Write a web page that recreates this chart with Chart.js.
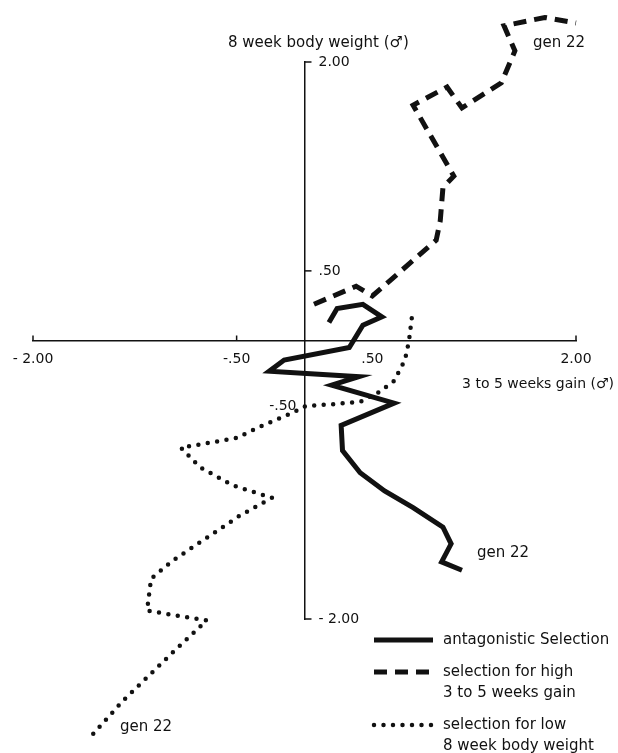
<!DOCTYPE html>
<html>
<head>
<meta charset="utf-8">
<script src="https://cdn.jsdelivr.net/npm/chart.js@4.4.1/dist/chart.umd.min.js"></script>
<style>
  html, body { margin: 0; padding: 0; background: #fff; }
  #wrap { width: 618px; height: 753px; }
</style>
</head>
<body>
<div id="wrap"><canvas id="chart" width="618" height="753"></canvas></div>
<script>
// responses in sigma units, x = 3 to 5 weeks gain, y = 8 week body weight
const antagonisticX = [0.18, 0.24, 0.43, 0.57, 0.43, 0.33, -0.15, -0.26, 0.40, 0.20, 0.66, 0.27, 0.28, 0.41, 0.59, 0.80, 1.02, 1.08, 1.01, 1.16];
const antagonisticY = [0.13, 0.23, 0.26, 0.17, 0.11, -0.05, -0.14, -0.22, -0.26, -0.32, -0.45, -0.61, -0.79, -0.95, -1.08, -1.20, -1.34, -1.46, -1.59, -1.65];

const highGainX = [0.07, 0.38, 0.50, 0.97, 1.00, 1.02, 1.10, 0.80, 1.05, 1.16, 1.45, 1.55, 1.47, 1.77, 2.00];
const highGainY = [0.26, 0.39, 0.32, 0.72, 0.86, 1.10, 1.18, 1.69, 1.82, 1.67, 1.85, 2.08, 2.26, 2.32, 2.28];

const lowWeightX = [0.79, 0.77, 0.74, 0.66, 0.55, 0.41, 0.18, 0.01, -0.09, -0.33, -0.50, -0.91, -0.77, -0.53, -0.24, -0.48, -0.97, -1.13, -1.16, -0.72, -0.97, -1.34, -1.57];
const lowWeightY = [0.16, 0.00, -0.14, -0.29, -0.37, -0.44, -0.46, -0.47, -0.52, -0.62, -0.70, -0.77, -0.91, -1.04, -1.13, -1.26, -1.58, -1.71, -1.94, -2.01, -2.24, -2.59, -2.84];

const seriesNames = ['antagonistic Selection', 'selection for high|3 to 5 weeks gain', 'selection for low|8 week body weight'];

const xTickValues = [-2, -0.5, 0.5, 2];
const xTickLabels = ['- 2.00', '-.50', '.50', '2.00'];
const yTickValues = [2, 0.5, -0.5, -2];
const yTickLabels = ['2.00', '.50', '-.50', '- 2.00'];

const INK = '#111';
const FONT = '"DejaVu Sans", "Liberation Sans", sans-serif';

function toPoints(xs, ys) {
  return xs.map((x, i) => ({ x: x, y: ys[i] }));
}

// ticks, axis titles, end labels and the legend
const decorPlugin = {
  id: 'decor',
  afterDraw(chart) {
    const { ctx, scales: { x, y } } = chart;
    const x0 = x.getPixelForValue(0);
    const y0 = y.getPixelForValue(0);
    ctx.save();
    ctx.strokeStyle = INK;
    ctx.fillStyle = INK;
    ctx.lineWidth = 1.5;
    ctx.font = '14px ' + FONT;

    xTickValues.forEach((v, i) => {
      const px = x.getPixelForValue(v);
      if (v !== 0.5) {
        ctx.beginPath();
        ctx.moveTo(px, y0);
        ctx.lineTo(px, y0 - 5);
        ctx.stroke();
      }
      ctx.textAlign = 'center';
      ctx.textBaseline = 'middle';
      ctx.fillText(xTickLabels[i], px, y0 + 19);
    });

    yTickValues.forEach((v, i) => {
      const py = y.getPixelForValue(v);
      ctx.textBaseline = 'middle';
      if (v < 0 && v > -1) {
        // this one sits left of the axis, a little high as in the print
        ctx.textAlign = 'right';
        ctx.fillText(yTickLabels[i], x0 - 8, py - 4);
        return;
      }
      ctx.beginPath();
      ctx.moveTo(x0, py);
      ctx.lineTo(x0 + 7, py);
      ctx.stroke();
      ctx.textAlign = 'left';
      ctx.fillText(yTickLabels[i], x0 + 14, py);
    });

    // axis titles
    ctx.textAlign = 'left';
    ctx.font = '15px ' + FONT;
    ctx.fillText('8 week body weight (\u2642)', 228, 43);
    ctx.textAlign = 'right';
    ctx.font = '14px ' + FONT;
    ctx.fillText('3 to 5 weeks gain (\u2642)', 614, 384);

    // generation labels
    ctx.textAlign = 'left';
    ctx.font = '15px ' + FONT;
    ctx.fillText('gen 22', 533, 43);
    ctx.fillText('gen 22', 477, 553);
    ctx.fillText('gen 22', 120, 727);

    // legend
    const rows = [640, 672, 725];
    chart.data.datasets.forEach((ds, i) => {
      const ly = rows[i];
      ctx.save();
      ctx.lineWidth = ds.borderWidth;
      ctx.lineCap = ds.borderCapStyle || 'butt';
      ctx.setLineDash(ds.borderDash || []);
      ctx.beginPath();
      ctx.moveTo(374, ly);
      ctx.lineTo(433, ly);
      ctx.stroke();
      ctx.restore();
      seriesNames[i].split('|').forEach((t, k) => {
        ctx.fillText(t, 443, ly + k * 21);
      });
    });
    ctx.restore();
  }
};

const axisStyle = {
  grid: { display: false },
  ticks: { display: false },
  border: { display: true, color: INK, width: 1.5 }
};

new Chart(document.getElementById('chart'), {
  type: 'scatter',
  data: {
    datasets: [
      {
        label: 'antagonistic Selection',
        data: toPoints(antagonisticX, antagonisticY),
        borderColor: INK,
        borderWidth: 5,
        borderJoinStyle: 'miter'
      },
      {
        label: 'selection for high 3 to 5 weeks gain',
        data: toPoints(highGainX, highGainY),
        borderColor: INK,
        borderWidth: 5,
        borderDash: [13, 8]
      },
      {
        label: 'selection for low 8 week body weight',
        data: toPoints(lowWeightX, lowWeightY),
        borderColor: INK,
        borderWidth: 4.5,
        borderDash: [0, 9.5],
        borderCapStyle: 'round'
      }
    ].map(ds => Object.assign(ds, { showLine: true, pointRadius: 0, clip: false, tension: 0 }))
  },
  options: {
    responsive: false,
    animation: false,
    layout: { padding: { left: 33, right: 42, top: 62, bottom: 134 } },
    plugins: { legend: { display: false }, tooltip: { enabled: false } },
    scales: {
      x: Object.assign({ type: 'linear', min: -2, max: 2, position: { y: 0 } }, axisStyle),
      y: Object.assign({ type: 'linear', min: -2, max: 2, position: { x: 0 } }, axisStyle)
    }
  },
  plugins: [decorPlugin]
});
</script>
</body>
</html>
